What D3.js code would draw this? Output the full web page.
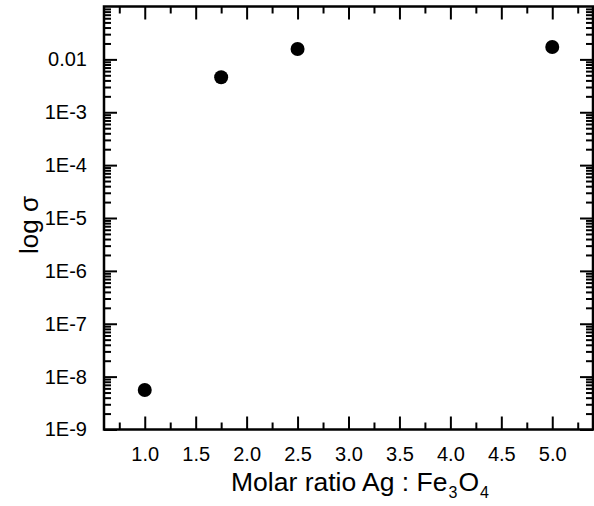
<!DOCTYPE html>
<html>
<head>
<meta charset="utf-8">
<script src="https://cdn.jsdelivr.net/npm/d3@7"></script>
<style>
  body { margin: 0; background: #fff; }
  svg text { font-family: "Liberation Sans", Arial, sans-serif; fill: #000; }
</style>
</head>
<body>
<svg id="chart" width="594" height="506"></svg>
<script>
// molar ratio Ag : Fe3O4 vs conductivity
var ratios = [1.0, 1.75, 2.5, 5.0];
var sigma = [5.6e-9, 4.6e-3, 0.0157, 0.0171];

var xTicks = [1.0, 1.5, 2.0, 2.5, 3.0, 3.5, 4.0, 4.5, 5.0];
var xTickLabels = ["1.0", "1.5", "2.0", "2.5", "3.0", "3.5", "4.0", "4.5", "5.0"];
var yTicks = [1e-2, 1e-3, 1e-4, 1e-5, 1e-6, 1e-7, 1e-8, 1e-9];
var yTickLabels = ["0.01", "1E-3", "1E-4", "1E-5", "1E-6", "1E-7", "1E-8", "1E-9"];

const plotLeft = 104, plotRight = 593, plotTop = 6.5, plotBottom = 429.5;

var svg = d3.select("#chart");

var x = d3.scaleLinear().domain([0.6, 5.4]).range([plotLeft, plotRight]);
var y = d3.scaleLog().domain([1e-9, 0.1]).range([plotBottom, plotTop]);

// minor ticks
var xMinor = d3.range(0.75, 5.4, 0.5);
var yMinor = [];
for (let e = -9; e < -1; e++) {
    for (let m = 2; m <= 9; m++) yMinor.push(m * Math.pow(10, e));
}

function noLabel() { return ""; }

// bottom
svg.append("g").attr("transform", `translate(0,${plotBottom})`)
    .call(d3.axisBottom(x).tickValues(xTicks).tickSize(-13).tickPadding(17)
        .tickFormat((d, i) => xTickLabels[i]))
    .call(g => g.selectAll("text").attr("font-size", 20).attr("dy", "0.71em"));
svg.append("g").attr("transform", `translate(0,${plotBottom})`)
    .call(d3.axisBottom(x).tickValues(xMinor).tickSize(-7).tickFormat(noLabel));
// top
svg.append("g").attr("transform", `translate(0,${plotTop})`)
    .call(d3.axisTop(x).tickValues(xTicks).tickSize(-13).tickFormat(noLabel));
svg.append("g").attr("transform", `translate(0,${plotTop})`)
    .call(d3.axisTop(x).tickValues(xMinor).tickSize(-7).tickFormat(noLabel));
// left
svg.append("g").attr("transform", `translate(${plotLeft},0)`)
    .call(d3.axisLeft(y).tickValues(yTicks).tickSize(-13).tickPadding(17)
        .tickFormat((d, i) => yTickLabels[i]))
    .call(g => g.selectAll("text").attr("font-size", 20));
svg.append("g").attr("transform", `translate(${plotLeft},0)`)
    .call(d3.axisLeft(y).tickValues(yMinor).tickSize(-7).tickFormat(noLabel));
// right
svg.append("g").attr("transform", `translate(${plotRight},0)`)
    .call(d3.axisRight(y).tickValues(yTicks).tickSize(-13).tickFormat(noLabel));
svg.append("g").attr("transform", `translate(${plotRight},0)`)
    .call(d3.axisRight(y).tickValues(yMinor).tickSize(-7).tickFormat(noLabel));

svg.selectAll(".domain").remove();
svg.selectAll(".tick line").attr("stroke", "#000").attr("stroke-width", 2);

svg.append("rect")
    .attr("x", plotLeft).attr("y", plotTop)
    .attr("width", plotRight - plotLeft).attr("height", plotBottom - plotTop)
    .attr("fill", "none").attr("stroke", "#000").attr("stroke-width", 2.5);

svg.selectAll("circle.pt")
    .data(ratios)
    .enter().append("circle")
    .attr("class", "pt")
    .attr("cx", d => x(d))
    .attr("cy", (d, i) => y(sigma[i]))
    .attr("r", 7)
    .attr("fill", "#000");

// axis titles
var xt = svg.append("text")
    .attr("x", 231).attr("y", 491)
    .attr("font-size", 26.5);
xt.append("tspan").text("Molar ratio Ag : Fe");
xt.append("tspan").attr("font-size", 16).attr("dx", 1).attr("dy", 7).text("3");
xt.append("tspan").attr("dx", 1).attr("dy", -7).text("O");
xt.append("tspan").attr("font-size", 16).attr("dx", 1).attr("dy", 7).text("4");

svg.append("text")
    .attr("transform", "translate(38,225) rotate(-90)")
    .attr("text-anchor", "middle")
    .attr("font-size", 26)
    .text("log σ");
</script>
</body>
</html>
